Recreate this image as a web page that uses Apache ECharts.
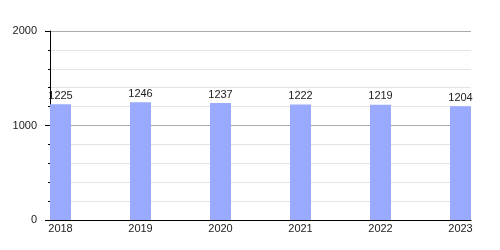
<!DOCTYPE html>
<html>
<head>
<meta charset="utf-8">
<script src="https://cdn.jsdelivr.net/npm/echarts@6/dist/echarts.min.js"></script>
<style>html,body{margin:0;padding:0;background:#fff;}#c{width:500px;height:250px;}</style>
</head>
<body>
<div id="c"></div>
<script>
const categories = ['2018', '2019', '2020', '2021', '2022', '2023'];
const values = [1225, 1246, 1237, 1222, 1219, 1204];
const yTicks = [0, 1000, 2000];

const chart = echarts.init(document.getElementById('c'), null, {renderer: 'canvas'});
const font = 'Liberation Sans, Arial, sans-serif';
chart.setOption({
  animation: false,
  grid: {left: 50, right: 29, top: 31, bottom: 30, containLabel: false},
  xAxis: {
    type: 'value',
    min: -0.13125,
    max: 5.13125,
    axisLine: {show: true, onZero: false, lineStyle: {color: '#000', width: 1}},
    axisTick: {show: false},
    splitLine: {show: false},
    axisLabel: {
      customValues: categories.map((c, i) => i),
      formatter: v => categories[Math.round(v)],
      color: '#222', fontSize: 11, fontFamily: font, margin: 3
    }
  },
  yAxis: {
    type: 'value',
    min: yTicks[0],
    max: yTicks[yTicks.length - 1],
    interval: 1000,
    axisLine: {show: true, onZero: false, lineStyle: {color: '#000', width: 1}},
    axisTick: {show: true, length: 5, lineStyle: {color: '#000'}},
    minorTick: {show: true, splitNumber: 5, length: 2, lineStyle: {color: '#000'}},
    splitLine: {show: true, lineStyle: {color: '#aaa', width: 1}},
    minorSplitLine: {show: true, lineStyle: {color: '#e4e4e4', width: 1}},
    axisLabel: {color: '#222', fontSize: 11, fontFamily: font, margin: 13, formatter: v => String(v)}
  },
  series: [{
    type: 'bar',
    data: values.map((v, i) => [i, v]),
    barWidth: 21,
    itemStyle: {color: '#99aaff'},
    label: {show: true, position: 'top', distance: 3, color: '#222', fontSize: 11, fontFamily: font}
  }]
});
</script>
</body>
</html>
